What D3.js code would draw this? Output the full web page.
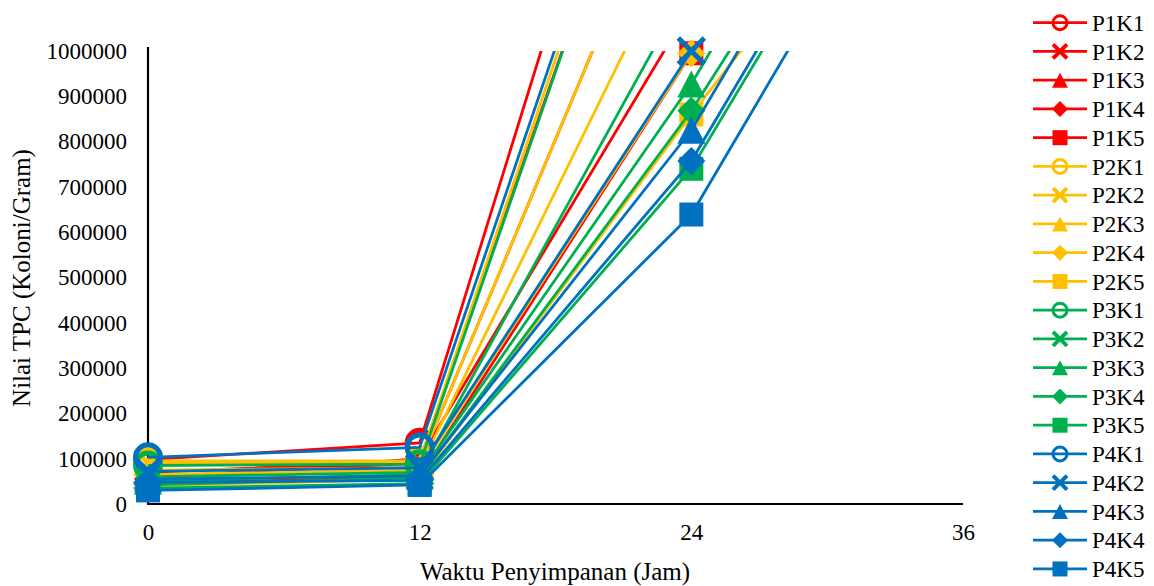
<!DOCTYPE html>
<html>
<head>
<meta charset="utf-8">
<script src="https://cdn.jsdelivr.net/npm/d3@7"></script>
<style>
  html, body { margin: 0; padding: 0; background: #fff; }
  svg { display: block; font-family: "Liberation Serif", "Times New Roman", serif; }
</style>
</head>
<body>
<svg id="chart" width="1154" height="586"></svg>
<script>
// Storage time (hours)
const hours = [0, 12, 24, 36];
const seriesNames = [
  "P1K1", "P1K2", "P1K3", "P1K4", "P1K5",
  "P2K1", "P2K2", "P2K3", "P2K4", "P2K5",
  "P3K1", "P3K2", "P3K3", "P3K4", "P3K5",
  "P4K1", "P4K2", "P4K3", "P4K4", "P4K5"
];
// TPC values (colonies/gram) for each series at each storage time
const tpc0  = [98000, 70000, 60000, 55000, 45000, 95000, 90000, 75000, 65000, 40000, 85000, 60000, 50000, 42000, 35000, 103000, 72000, 55000, 48000, 30000];
const tpc12 = [135000, 95000, 90000, 100000, 60000, 95000, 90000, 80000, 75000, 55000, 88000, 70000, 65000, 58000, 45000, 125000, 80000, 62000, 52000, 42000];
const tpc24 = [2070000, 1820000, 1520000, 1100000, 995000, 1870000, 1520000, 1300000, 995000, 860000, 1820000, 1155000, 927000, 868000, 740000, 1890000, 1000000, 825000, 757000, 639000];
const tpc36 = [3200000, 2900000, 2600000, 2200000, 2100000, 3000000, 2500000, 2400000, 2000000, 1630000, 2800000, 2100000, 1950000, 1810000, 1740000, 3000000, 2050000, 1840000, 1770000, 1657000];
const groupColors = ["#FF0000", "#FFC000", "#00B050", "#0070C0"];
const markerTypes = ["circle", "cross", "triangle", "diamond", "square"];
const xTicks = [0, 12, 24, 36];
const yTicks = [0, 100000, 200000, 300000, 400000, 500000, 600000, 700000, 800000, 900000, 1000000];

const svg = d3.select("#chart");
const x = d3.scaleLinear().domain([0, 36]).range([148, 963]);
const y = d3.scaleLinear().domain([0, 1000000]).range([504, 51]);

const series = seriesNames.map((name, i) => ({
  name,
  color: groupColors[Math.floor(i / 5)],
  marker: markerTypes[i % 5],
  values: [tpc0[i], tpc12[i], tpc24[i], tpc36[i]].map((v, j) => ({ h: hours[j], v }))
}));

// plot area clip (lines leaving the 1,000,000 ceiling are cut off)
svg.append("defs").append("clipPath").attr("id", "plotClip")
  .append("rect").attr("x", 0).attr("y", y(1000000)).attr("width", 1154).attr("height", 600);

// axes
const yAxis = d3.axisLeft(y).tickValues(yTicks).tickFormat(d3.format("d")).tickSize(0).tickPadding(21);
const gy = svg.append("g").attr("transform", `translate(${x(0)},0)`).call(yAxis);
gy.select(".domain").remove();
gy.selectAll("text").attr("font-size", 23).attr("fill", "#000").attr("font-family", "Liberation Serif");

const xAxis = d3.axisBottom(x).tickValues(xTicks).tickFormat(d3.format("d")).tickSize(0).tickPadding(20);
const gx = svg.append("g").attr("transform", `translate(0,${y(0)})`).call(xAxis);
gx.select(".domain").remove();
gx.selectAll("text").attr("font-size", 23).attr("fill", "#000").attr("font-family", "Liberation Serif");

svg.append("line").attr("x1", x(0)).attr("x2", x(0)).attr("y1", 47).attr("y2", y(0))
  .attr("stroke", "#000").attr("stroke-width", 2.2);
svg.append("line").attr("x1", x(0) - 1).attr("x2", x(36)).attr("y1", y(0)).attr("y2", y(0))
  .attr("stroke", "#000").attr("stroke-width", 2.2);

// axis titles
svg.append("text").attr("x", 555).attr("y", 580).attr("text-anchor", "middle")
  .attr("font-size", 25).text("Waktu Penyimpanan (Jam)");
svg.append("text").attr("transform", "translate(30,278) rotate(-90)").attr("text-anchor", "middle")
  .attr("font-size", 25).text("Nilai TPC (Koloni/Gram)");

// marker drawing
function drawMarker(g, type, color, cx, cy, big) {
  const s = big ? { sq: 24, tw: 28, th: 27, dm: 28, cr: 13, cw: 5, ci: 12.5, cs: 5 }
                : { sq: 15, tw: 16, th: 15, dm: 16, cr: 7, cw: 4, ci: 7, cs: 3 };
  if (type === "circle") {
    g.append("circle").attr("cx", cx).attr("cy", cy).attr("r", s.ci)
      .attr("fill", "none").attr("stroke", color).attr("stroke-width", s.cs);
  } else if (type === "square") {
    g.append("rect").attr("x", cx - s.sq / 2).attr("y", cy - s.sq / 2)
      .attr("width", s.sq).attr("height", s.sq).attr("fill", color);
  } else if (type === "triangle") {
    g.append("path").attr("d", `M${cx},${cy - s.th / 2}L${cx + s.tw / 2},${cy + s.th / 2}L${cx - s.tw / 2},${cy + s.th / 2}Z`)
      .attr("fill", color);
  } else if (type === "diamond") {
    const d = s.dm / 2;
    g.append("path").attr("d", `M${cx},${cy - d}L${cx + d},${cy}L${cx},${cy + d}L${cx - d},${cy}Z`)
      .attr("fill", color);
  } else if (type === "cross") {
    const r = s.cr;
    g.append("path").attr("d", `M${cx - r},${cy - r}L${cx + r},${cy + r}M${cx + r},${cy - r}L${cx - r},${cy + r}`)
      .attr("stroke", color).attr("stroke-width", s.cw).attr("fill", "none");
  }
}

const line = d3.line().x(d => x(d.h)).y(d => y(d.v));

series.forEach(s => {
  const g = svg.append("g");
  g.append("path").attr("d", line(s.values)).attr("clip-path", "url(#plotClip)")
    .attr("fill", "none").attr("stroke", s.color).attr("stroke-width", 2.8);
  s.values.filter(d => d.v <= 1000000).forEach(d => drawMarker(g, s.marker, s.color, x(d.h), y(d.v), true));
});

// legend
const legend = svg.append("g");
series.forEach((s, i) => {
  const ly = 22.7 + i * 28.75;
  const g = legend.append("g");
  g.append("line").attr("x1", 1033).attr("x2", 1087).attr("y1", ly).attr("y2", ly)
    .attr("stroke", s.color).attr("stroke-width", 2.8);
  drawMarker(g, s.marker, s.color, 1060, ly, false);
  g.append("text").attr("x", 1092).attr("y", ly).attr("dy", "0.35em")
    .attr("font-size", 23).text(s.name);
});
</script>
</body>
</html>
